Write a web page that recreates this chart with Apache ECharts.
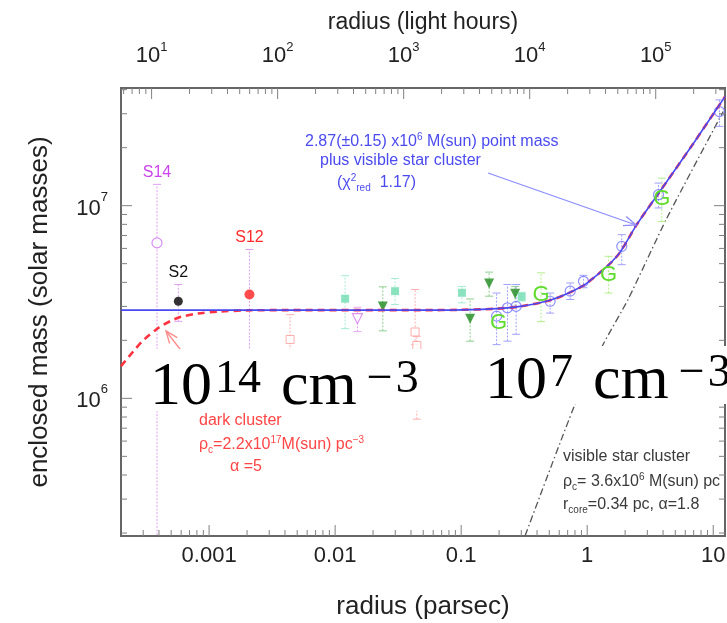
<!DOCTYPE html>
<html><head><meta charset="utf-8">
<script src="https://cdn.jsdelivr.net/npm/echarts@6/dist/echarts.min.js"></script>
<style>html,body{margin:0;padding:0;background:#fff}#c{width:727px;height:623px}</style>
</head><body><div id="c"></div>
<script>
// ---------------- data ----------------
const PC_TO_LIGHT_HOURS = 28590;
const xRange = [2.0e-4, 12.4];          // radius (pc)
const yRange = [1.93e5, 4.08e7];        // enclosed mass
const minorMultipliers = [2, 3, 4, 5, 6, 7, 8, 9];

// model: 2.87e6 point mass + visible star cluster (blue)
const pointMassR = [2.0e-4, 0.01, 0.05, 0.1, 0.193, 0.294, 0.508, 0.733, 1.0, 1.72, 2.48, 4.03, 6.98, 12.4];
const pointMassM = [2.87e6, 2.87e6, 2.87e6, 2.88e6, 2.92e6, 3.0e6, 3.23e6, 3.55e6, 3.97e6, 5.46e6, 8.0e6, 1.26e7, 2.11e7, 3.68e7];
// model: dark cluster + visible cluster (red dashed)
const darkClusterR = [2.0e-4, 2.5e-4, 3.0e-4, 4.0e-4, 5.0e-4, 6.0e-4, 8.0e-4, 1.2e-3, 2.0e-3, 4.0e-3, 0.05, 0.1, 0.193, 0.294, 0.508, 0.733, 1.0, 1.72, 2.48, 4.03, 6.98, 12.4];
const darkClusterM = [1.47e6, 1.75e6, 2.0e6, 2.33e6, 2.53e6, 2.65e6, 2.75e6, 2.82e6, 2.86e6, 2.87e6, 2.87e6, 2.88e6, 2.92e6, 3.0e6, 3.23e6, 3.55e6, 3.97e6, 5.46e6, 8.0e6, 1.26e7, 2.11e7, 3.68e7];
// visible star cluster alone (black dash-dot)
const starClusterR = [0.322, 0.80, 1.34, 2.11, 4.29, 12.0];
const starClusterM = [1.94e5, 9.3e5, 1.91e6, 3.26e6, 8.63e6, 3.08e7];

// measurements: [radius, mass, lower, upper]
const s14 = [[3.86e-4, 6.41e6, 1.0e5, 1.29e7]];
const s2  = [[5.7e-4, 3.19e6, 2.51e6, 3.9e6]];
const s12 = [[2.09e-3, 3.46e6, 1.3e6, 5.92e6]];
const starNames = ['S14', 'S2', 'S12'];
const blueCircles = [
  [0.191, 2.67e6, 1.9e6, 3.52e6], [0.233, 2.95e6, 1.98e6, 3.9e6], [0.273, 3.0e6, 2.15e6, 3.9e6],
  [0.508, 3.19e6, 2.77e6, 3.52e6], [0.733, 3.6e6, 3.26e6, 3.97e6], [0.934, 4.05e6, 3.75e6, 4.35e6],
  [1.88, 6.15e6, 4.94e6, 7.07e6], [3.68, 1.14e7, 9.73e6, 1.31e7], [11.2, 3.08e7, 2.58e7, 3.54e7]
];
const greenG = [
  [0.198, 2.46e6, 2.46e6, 2.46e6], [0.43, 3.45e6, 2.5e6, 4.48e6],
  [1.48, 4.39e6, 3.52e6, 5.46e6], [3.91, 1.09e7, 8.28e6, 1.39e7]
];
const darkGreenTriangles = [
  [0.0239, 3.0e6, 2.24e6, 3.79e6], [0.1178, 2.59e6, 1.98e6, 3.28e6],
  [0.1667, 3.94e6, 3.39e6, 4.52e6], [0.268, 3.49e6, 3.0e6, 3.81e6]
];
const aquaSquares = [
  [0.0120, 3.29e6, 2.30e6, 4.33e6], [0.0299, 3.6e6, 3.07e6, 4.19e6],
  [0.1014, 3.53e6, 3.13e6, 3.81e6], [0.302, 3.37e6, 3.2e6, 3.55e6]
];
const magentaTriangles = [[0.01503, 2.59e6, 2.22e6, 2.97e6]];
const paleRedSquares = [
  [4.39e-3, 2.02e6, 1.5e6, 2.72e6], [0.0431, 2.21e6, 1.9e6, 3.67e6], [0.0445, 1.88e6, 7.8e5, 2.1e6]
];

// ---------------- chart ----------------
const FONT = '"Liberation Sans", Arial, Helvetica, sans-serif';
const SERIF = '"Liberation Serif", "Times New Roman", serif';
const zip = (a, b) => a.map((v, i) => [v, b[i]]);
const isPow10 = v => Math.abs(Math.log10(v) - Math.round(Math.log10(v))) < 1e-6;
const expOf = v => Math.round(Math.log10(v));

function tickValues(range) {
  const out = [];
  for (let k = Math.floor(Math.log10(range[0])); k <= Math.ceil(Math.log10(range[1])); k++) {
    [1].concat(minorMultipliers).forEach(m => {
      const v = m * Math.pow(10, k);
      if (v >= range[0] * 1.0001 && v <= range[1] * 0.9999) out.push([v, m === 1]);
    });
  }
  return out;
}

function errorBars(data, color, labels, labelColors) {
  return {
    type: 'custom', data: data, clip: true, z: 3, silent: true,
    encode: { x: 0, y: 1 },
    renderItem(params, api) {
      const r = api.value(0);
      const lo = api.coord([r, api.value(2)]);
      const hi = api.coord([r, api.value(3)]);
      const cap = 4;
      const children = [];
      if (Math.abs(lo[1] - hi[1]) > 0.5) {
        children.push(
          { type: 'line', shape: { x1: lo[0], y1: lo[1], x2: hi[0], y2: hi[1] }, style: { stroke: color, lineWidth: 1, lineDash: [2, 1.5] } },
          { type: 'line', shape: { x1: hi[0] - cap, y1: hi[1], x2: hi[0] + cap, y2: hi[1] }, style: { stroke: color, lineWidth: 1 } },
          { type: 'line', shape: { x1: lo[0] - cap, y1: lo[1], x2: lo[0] + cap, y2: lo[1] }, style: { stroke: color, lineWidth: 1 } }
        );
      }
      if (labels) {
        children.push({ type: 'text', style: { text: labels[params.dataIndex], x: hi[0], y: hi[1] - 12, align: 'center', verticalAlign: 'middle', font: '16px ' + FONT, fill: labelColors[params.dataIndex] } });
      }
      return { type: 'group', children };
    }
  };
}

function scatter(data, symbol, size, itemStyle, rotate) {
  return { type: 'scatter', data: data.map(d => [d[0], d[1]]), symbol, symbolSize: size, symbolRotate: rotate || 0, itemStyle, z: 4, silent: true };
}

function tickSeries(xAxisIndex, range, side) {
  return {
    type: 'custom', xAxisIndex, yAxisIndex: 0, silent: true, z: 6,
    data: [[Math.sqrt(range[0] * range[1]), 1e6]], encode: { x: 0, y: 1 },
    renderItem(params, api) {
      const cs = params.coordSys;
      const L = cs.x, R = cs.x + cs.width, T = cs.y, B = cs.y + cs.height;
      const ch = [];
      const line = (x1, y1, x2, y2) => ch.push({ type: 'line', shape: { x1, y1, x2, y2 }, style: { stroke: '#808080', lineWidth: 1 } });
      tickValues(range).forEach(([v, major]) => {
        const px = api.coord([v, yRange[0]])[0];
        const len = major ? 11 : 6;
        if (side === 'bottom') line(px, B, px, B - len); else line(px, T, px, T + len);
      });
      if (side === 'bottom') {
        tickValues(yRange).forEach(([v, major]) => {
          const py = api.coord([range[0], v])[1];
          const len = major ? 11 : 6;
          line(L, py, L + len, py);
          line(R, py, R - len, py);
        });
      }
      return { type: 'group', children: ch };
    }
  };
}

const sup10 = v => isPow10(v) ? '{b|10}{s|' + expOf(v) + '}' : '';

const option = {
  backgroundColor: '#fff',
  animation: false,
  grid: { left: 121, right: 2, top: 88, bottom: 87, show: true, borderColor: '#666', borderWidth: 2, containLabel: false, outerBoundsMode: 'none' },
  xAxis: [
    {
      type: 'log', logBase: 10, min: xRange[0], max: xRange[1], position: 'bottom',
      axisLine: { show: false }, axisTick: { show: false }, splitLine: { show: false }, minorTick: { show: false },
      axisLabel: { showMinLabel: false, showMaxLabel: false, fontSize: 22, color: '#222', fontFamily: FONT, margin: 9,
        formatter: v => isPow10(v) ? String(+v.toPrecision(6)) : '' },
      name: 'radius (parsec)', nameLocation: 'middle', nameGap: 58,
      nameTextStyle: { fontSize: 26, color: '#222', fontFamily: FONT }
    },
    {
      type: 'log', logBase: 10, min: xRange[0] * PC_TO_LIGHT_HOURS, max: xRange[1] * PC_TO_LIGHT_HOURS, position: 'top',
      axisLine: { show: false }, axisTick: { show: false }, splitLine: { show: false },
      axisLabel: { showMinLabel: false, showMaxLabel: false, margin: 17, formatter: sup10,
        rich: { b: { fontSize: 22, lineHeight: 30, color: '#222', fontFamily: FONT }, s: { fontSize: 13, lineHeight: 14, verticalAlign: 'top', color: '#222', fontFamily: FONT } } },
      name: 'radius (light hours)', nameLocation: 'middle', nameGap: 54,
      nameTextStyle: { fontSize: 23, color: '#222', fontFamily: FONT }
    }
  ],
  yAxis: {
    type: 'log', logBase: 10, min: yRange[0], max: yRange[1],
    axisLine: { show: false }, axisTick: { show: false }, splitLine: { show: false },
    axisLabel: { showMinLabel: false, showMaxLabel: false, margin: 13, formatter: sup10,
      rich: { b: { fontSize: 22, lineHeight: 30, color: '#222', fontFamily: FONT, padding: [6, 0, 0, 0] }, s: { fontSize: 13, lineHeight: 14, verticalAlign: 'top', color: '#222', fontFamily: FONT } } },
    name: 'enclosed mass (solar masses)', nameLocation: 'middle', nameGap: 68, nameRotate: 90,
    nameTextStyle: { fontSize: 26, color: '#222', fontFamily: FONT }
  },
  series: [
    { type: 'line', data: zip(starClusterR, starClusterM), showSymbol: false, symbol: 'none', smooth: 0.2, z: 2, silent: true,
      lineStyle: { color: '#555', width: 1.3, type: [7, 3, 1.5, 3] } },
    errorBars(paleRedSquares, '#ffb0b0'),
    errorBars(aquaSquares, '#a6ecd2'),
    errorBars(magentaTriangles, '#e6a8f2'),
    errorBars(darkGreenTriangles, '#8fcf8f'),
    errorBars(blueCircles, '#a0a0ff'),
    errorBars(greenG, '#b4ee90'),
    errorBars(s14.concat(s2, s12), '#e0a0f0', starNames, ['#cc44ee', '#111', '#ff2a2a']),
    { type: 'line', data: zip(darkClusterR, darkClusterM), showSymbol: false, symbol: 'none', smooth: 0.3, z: 5, silent: true,
      lineStyle: { color: '#ff3340', width: 2.6, type: [7, 5] } },
    { type: 'line', data: zip(pointMassR, pointMassM), showSymbol: false, symbol: 'none', smooth: 0.3, z: 5, silent: true,
      lineStyle: { color: '#4848f0', width: 1.6 } },
    scatter(paleRedSquares, 'rect', 8, { color: '#fff', borderColor: '#ff9a9a', borderWidth: 1 }),
    scatter(aquaSquares, 'rect', 8, { color: '#6fdcb0' }),
    scatter(magentaTriangles, 'triangle', 10, { color: '#fff', borderColor: '#d77af0', borderWidth: 1.2 }, 180),
    scatter(darkGreenTriangles, 'triangle', 10, { color: '#1d8a1d' }, 180),
    scatter(blueCircles, 'circle', 10, { color: 'rgba(255,255,255,0)', borderColor: '#7373ff', borderWidth: 1.2 }),
    scatter(s14, 'circle', 10, { color: '#fff', borderColor: '#d070f0', borderWidth: 1.2 }),
    scatter(s2, 'circle', 9, { color: '#000' }),
    scatter(s12, 'circle', 10, { color: '#ff1f1f' }),
    { type: 'custom', data: greenG, encode: { x: 0, y: 1 }, z: 6, silent: true,
      renderItem(params, api) {
        const p = api.coord([api.value(0), api.value(1)]);
        return { type: 'text', style: { text: 'G', x: p[0], y: p[1], align: 'center', verticalAlign: 'middle', font: '22px ' + FONT, fill: '#5fdc2e' } };
      } },
    tickSeries(0, xRange, 'bottom'),
    tickSeries(1, [xRange[0] * PC_TO_LIGHT_HOURS, xRange[1] * PC_TO_LIGHT_HOURS], 'top')
  ]
};

function arrow(x1, y1, x2, y2, color) {
  const a = Math.atan2(y2 - y1, x2 - x1), h = 13, s = 0.38;
  return [
    { type: 'line', z: 20, shape: { x1, y1, x2, y2 }, style: { stroke: color, lineWidth: 1.3 } },
    { type: 'polyline', z: 20, shape: { points: [[x2 - h * Math.cos(a - s), y2 - h * Math.sin(a - s)], [x2, y2], [x2 - h * Math.cos(a + s), y2 - h * Math.sin(a + s)]] }, style: { stroke: color, lineWidth: 1.3, fill: null } }
  ];
}
function annot(x, y, text, color) {
  return { type: 'text', z: 30, x, y, style: { text, fill: color, font: '16px ' + FONT, verticalAlign: 'middle', align: 'left',
    rich: {
      n: { fontSize: 16, lineHeight: 20, fontFamily: FONT, fill: color, color },
      u: { fontSize: 10, lineHeight: 12, verticalAlign: 'top', fontFamily: FONT, fill: color, color },
      d: { fontSize: 10, lineHeight: 10, verticalAlign: 'bottom', fontFamily: FONT, fill: color, color }
    } } };
}
function bigLabel(x, y, exp1, exp2) {
  const base = { fontFamily: SERIF, fill: '#000', color: '#000' };
  return { type: 'text', z: 41, x, y, style: { text: '{a|10}{s|' + exp1 + '}{g| }{a|cm}{m|\u2212}{s|' + exp2 + '}', verticalAlign: 'top', align: 'left',
    rich: {
      a: Object.assign({ fontSize: 62, lineHeight: 62 }, base),
      s: Object.assign({ fontSize: 46, lineHeight: 28, verticalAlign: 'top', padding: [0, 0, 0, 3] }, base),
      g: { width: 20, fontSize: 20, lineHeight: 20 },
      m: Object.assign({ fontSize: 46, lineHeight: 28, verticalAlign: 'top', padding: [0, 0, 0, 10] }, base)
    } } };
}

const BLUE = '#4b4bf0', RED = '#ff4545', DARK = '#3a3a3a';
option.graphic = [
  ...arrow(488, 173, 636, 225, '#8c8cff'),
  ...arrow(190, 362, 166, 331, '#ff8a8a'),
  annot(305, 142, '{n|2.87(\u00b10.15) x10}{u|6}{n| M(sun) point mass}', BLUE),
  annot(320, 161, '{n|plus visible star cluster}', BLUE),
  annot(337, 183, '{n|(\u03c7}{u|2}{d|red}{n|  1.17)}', BLUE),
  annot(199, 421, '{n|dark cluster}', RED),
  annot(199, 445, '{n|\u03c1}{d|c}{n|=2.2x10}{u|17}{n|M(sun) pc}{u|\u22123}', RED),
  annot(230, 467, '{n|\u03b1 =5}', RED),
  annot(563, 457, '{n|visible star cluster}', DARK),
  annot(563, 482, '{n|\u03c1}{d|c}{n|= 3.6x10}{u|6}{n| M(sun) pc}', DARK),
  annot(563, 505, '{n|r}{d|core}{n|=0.34 pc, \u03b1=1.8}', DARK),
  { type: 'rect', z: 40, shape: { x: 150, y: 349, width: 284, height: 62 }, style: { fill: '#fff' } },
  { type: 'rect', z: 40, shape: { x: 486, y: 346, width: 250, height: 58 }, style: { fill: '#fff' } },
  bigLabel(150, 357, '14', '3'),
  bigLabel(485, 351, '7', '3')
];

const chart = echarts.init(document.getElementById('c'), null, { renderer: 'canvas' });
chart.setOption(option);
</script>
</body></html>
